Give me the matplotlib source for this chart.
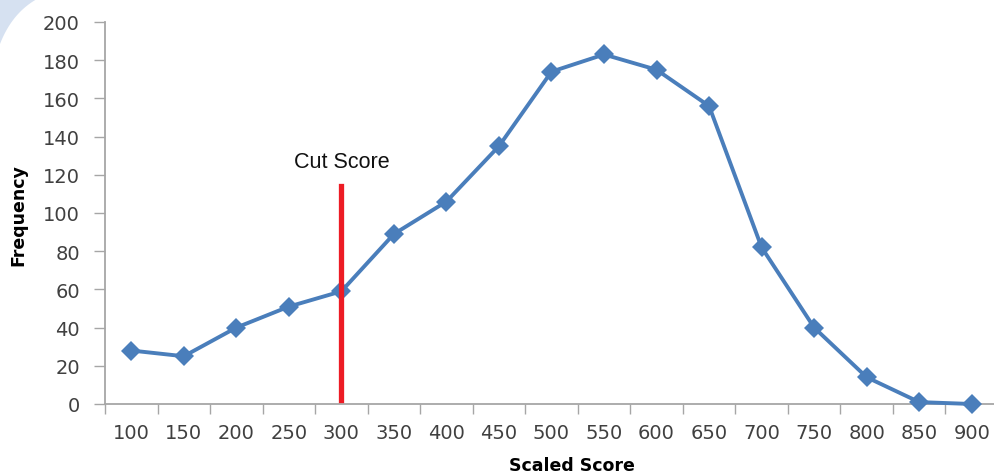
import numpy as np
import matplotlib

matplotlib.use("Agg")
import matplotlib.pyplot as plt
from matplotlib.patches import Polygon

scores = ["100", "150", "200", "250", "300", "350", "400", "450", "500",
          "550", "600", "650", "700", "750", "800", "850", "900"]
frequency = [28, 25, 40, 51, 59, 89, 106, 135, 174, 183, 175, 156, 82, 40, 14, 1, 0]
cut_index = 4
cut_range = [2, 114]
cut_label = "Cut Score"

fig = plt.figure(figsize=(9.95, 4.77), dpi=100)

# light blue slide decoration in the top-left corner
t = np.linspace(0, 1, 30)
arc_x = 37 * (1 - t) ** 2 + 2 * (1 - t) * t * 12
arc_y = 2 * (1 - t) * t * 14 + 45 * t ** 2
pts = [(0, 1)] + [(px / 995, 1 - py / 477) for px, py in zip(arc_x, arc_y)]
fig.patches.append(Polygon(pts, closed=True, transform=fig.transFigure,
                           facecolor="#d6e1f1", edgecolor="none", zorder=0))

# right end of the axis runs slightly past the picture edge, as in the original
ax = fig.add_axes([105 / 995, 1 - 405 / 477, 893 / 995, 382 / 477])
ax.patch.set_alpha(0)
x = np.arange(len(scores))
ax.plot(x, frequency, color="#4a7ebb", lw=2.8, marker="D", ms=10,
        markeredgewidth=0, zorder=3, clip_on=False)
ax.plot([cut_index, cut_index], cut_range, color="#ed1c24", lw=3.8, zorder=4)
ax.text(cut_index, 127, cut_label, ha="center", va="center", fontsize=15.5,
        family="Liberation Sans", color="#111111")

ax.set_xlim(-0.5, len(scores) - 0.5)
ax.set_ylim(0, 200)
ax.set_yticks(range(0, 201, 20))
ax.set_xticks(x)
ax.set_xticklabels(scores)
ax.set_xticks(np.arange(-0.5, len(scores)), minor=True)
ax.tick_params(axis="x", which="major", length=0, pad=14, labelsize=14, labelcolor="#404040")
ax.tick_params(axis="x", which="minor", length=7, width=1, color="#a6a6a6", direction="out")
ax.tick_params(axis="y", length=8, width=1, color="#a6a6a6", pad=10, labelsize=14, labelcolor="#404040")

for s in ["top", "right"]:
    ax.spines[s].set_visible(False)
for s in ["left", "bottom"]:
    ax.spines[s].set_color("#a6a6a6")
    ax.spines[s].set_linewidth(1.3)

ax.set_xlabel("Scaled Score", fontsize=12.5, fontweight="bold")
ax.set_ylabel("Frequency", fontsize=12.5, fontweight="bold")
ax.xaxis.set_label_coords((572 - 105) / 893, (405 - 466) / 382)
ax.yaxis.set_label_coords((18 - 105) / 893, (405 - 215) / 382)
ax.xaxis.label.set_va("center")
ax.yaxis.label.set_va("center")

fig.savefig("out.png", dpi=100)
